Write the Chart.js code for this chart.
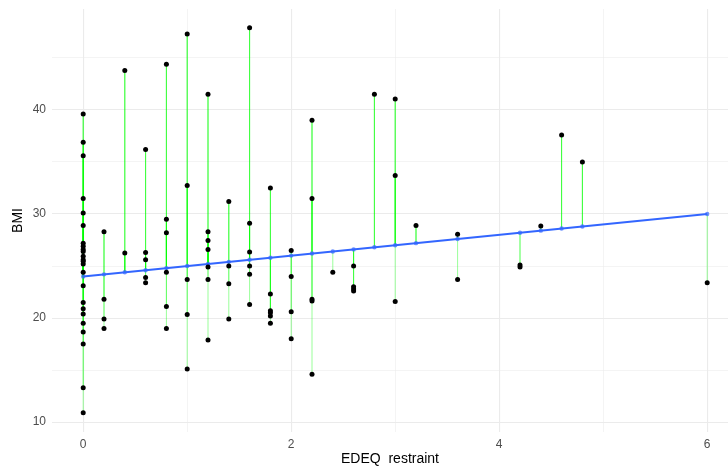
<!DOCTYPE html>
<html>
<head>
<meta charset="utf-8">
<script src="https://cdn.jsdelivr.net/npm/chart.js@4.4.1/dist/chart.umd.min.js"></script>
<style>
    html, body { margin: 0; padding: 0; background: #ffffff; }
    #bmiChart { display: block; }
</style>
</head>
<body>
<canvas id="bmiChart" width="728" height="468"></canvas>
<script>
// EDEQ restraint levels found in the data
const restraintLevels = [0, 0.2, 0.4, 0.6, 0.8, 1.0, 1.2, 1.4, 1.6, 1.8, 2.0, 2.2, 2.4, 2.6, 2.8, 3.0, 3.2, 3.6, 4.2, 4.4, 4.6, 4.8, 6.0];

// observed BMI values at each restraint level
const bmiByLevel = [
    [39.6, 36.9, 35.6, 31.5, 30.1, 28.9, 27.2, 26.9, 26.6, 26.4, 25.95, 25.6, 25.45, 25.2, 24.4, 23.1, 21.5, 20.9, 20.4, 19.5, 18.65, 17.5, 13.3, 10.9],
    [28.3, 21.8, 19.9, 19.0],
    [43.8, 26.25],
    [36.2, 26.3, 25.6, 23.9, 23.4],
    [44.4, 29.5, 28.2, 24.4, 21.1, 19.0],
    [47.3, 32.75, 23.7, 20.35, 15.1],
    [41.5, 28.3, 27.45, 26.6, 24.9, 23.7, 17.9],
    [31.2, 25.0, 23.3, 19.9],
    [47.9, 29.1, 26.35, 25.0, 24.2, 21.3],
    [32.5, 22.3, 20.7, 20.5, 20.2, 19.5],
    [26.5, 24.0, 20.6, 18.0],
    [39.0, 31.5, 21.8, 21.65, 14.6],
    [24.4],
    [25.0, 23.0, 22.8, 22.6],
    [41.5],
    [41.05, 33.7, 21.6],
    [28.9],
    [28.05, 23.7],
    [25.1, 24.9],
    [28.85],
    [37.6],
    [35.0],
    [23.4],
];

// fitted BMI (lm line) at each restraint level
const fittedBmi = [24.0, 24.2, 24.4, 24.6, 24.8, 25.0, 25.2, 25.4, 25.6, 25.8, 26.0, 26.2, 26.4, 26.6, 26.8, 27.0, 27.2, 27.6, 28.2, 28.4, 28.6, 28.8, 30.0];

const xTicks = [0, 1, 2, 3, 4, 5, 6];
const yTicks = [10, 15, 20, 25, 30, 35, 40, 45];

const lineBlue = '#3366FF';
const gridGrey = '#EBEBEB';
const textGrey = '#4D4D4D';
const fontFamily = 'Liberation Sans, Arial, sans-serif';

let observedPoints = [];
let residualSets = [];
restraintLevels.forEach((level, i) => {
    bmiByLevel[i].forEach((bmi) => {
        observedPoints.push({ x: level, y: bmi });
        residualSets.push({
            type: 'line',
            data: [{ x: level, y: bmi }, { x: level, y: fittedBmi[i] }],
            borderColor: 'rgba(0, 255, 0, 0.4)',
            borderWidth: 1,
            pointRadius: 0,
            fill: false,
            order: 4,
        });
    });
});

const fittedPoints = restraintLevels.map((level, i) => ({ x: level, y: fittedBmi[i] }));

// chart.js pads the area for edge labels, ggplot doesn't
const noEdgePadding = (scale) => {
    scale.paddingLeft = 0;
    scale.paddingRight = 0;
    scale.paddingTop = 0;
    scale.paddingBottom = 0;
};

let bmiGraphConfig = {
    type: 'scatter',
    data: {
        datasets: [
            {
                label: 'BMI',
                data: observedPoints,
                backgroundColor: '#000000',
                borderColor: '#000000',
                borderWidth: 0,
                pointRadius: 2.5,
                order: 0,
            },
            {
                label: 'Fitted points',
                data: fittedPoints,
                backgroundColor: 'rgba(51, 102, 255, 0.7)',
                borderWidth: 0,
                pointRadius: 2.2,
                order: 1,
            },
            {
                type: 'line',
                label: 'Fit',
                data: [fittedPoints[0], fittedPoints[fittedPoints.length - 1]],
                borderColor: lineBlue,
                borderWidth: 2,
                pointRadius: 0,
                fill: false,
                order: 2,
            },
            ...residualSets,
        ],
    },
    options: {
        responsive: false,
        animation: false,
        layout: { autoPadding: false, padding: { top: 9, right: 0, bottom: 0, left: 0 } },
        plugins: {
            legend: { display: false },
            tooltip: { enabled: false },
        },
        scales: {
            x: {
                type: 'linear',
                min: -0.3,
                max: 6.2,
                afterBuildTicks: (scale) => {
                    scale.ticks = xTicks.map((v) => ({ value: v }));
                },
                afterFit: (scale) => {
                    scale.height = 36;
                    noEdgePadding(scale);
                },
                border: { display: false },
                grid: {
                    color: gridGrey,
                    drawTicks: false,
                    lineWidth: (ctx) => (ctx.tick && ctx.tick.value % 2 === 0 ? 1.1 : 0.55),
                },
                ticks: {
                    padding: 5,
                    color: textGrey,
                    font: { family: fontFamily, size: 12 },
                    callback: (v) => (v % 2 === 0 ? String(v) : ''),
                },
                title: {
                    display: true,
                    text: 'EDEQ  restraint',
                    color: '#000000',
                    padding: { top: 0, bottom: 0 },
                    font: { family: fontFamily, size: 14 },
                },
            },
            y: {
                type: 'linear',
                min: 9.05,
                max: 49.7,
                afterBuildTicks: (scale) => {
                    scale.ticks = yTicks.map((v) => ({ value: v }));
                },
                afterFit: (scale) => {
                    scale.width = 52;
                    noEdgePadding(scale);
                },
                border: { display: false },
                grid: {
                    color: gridGrey,
                    drawTicks: false,
                    lineWidth: (ctx) => (ctx.tick && ctx.tick.value % 10 === 0 ? 1.1 : 0.55),
                },
                ticks: {
                    padding: 6,
                    color: textGrey,
                    font: { family: fontFamily, size: 12 },
                    callback: (v) => (v % 10 === 0 ? String(v) : ''),
                },
                title: {
                    display: true,
                    text: 'BMI',
                    color: '#000000',
                    padding: { top: 10, bottom: 0 },
                    font: { family: fontFamily, size: 14 },
                },
            },
        },
    },
};

let bmiChart = new Chart(document.getElementById('bmiChart').getContext('2d'), bmiGraphConfig);
</script>
</body>
</html>
